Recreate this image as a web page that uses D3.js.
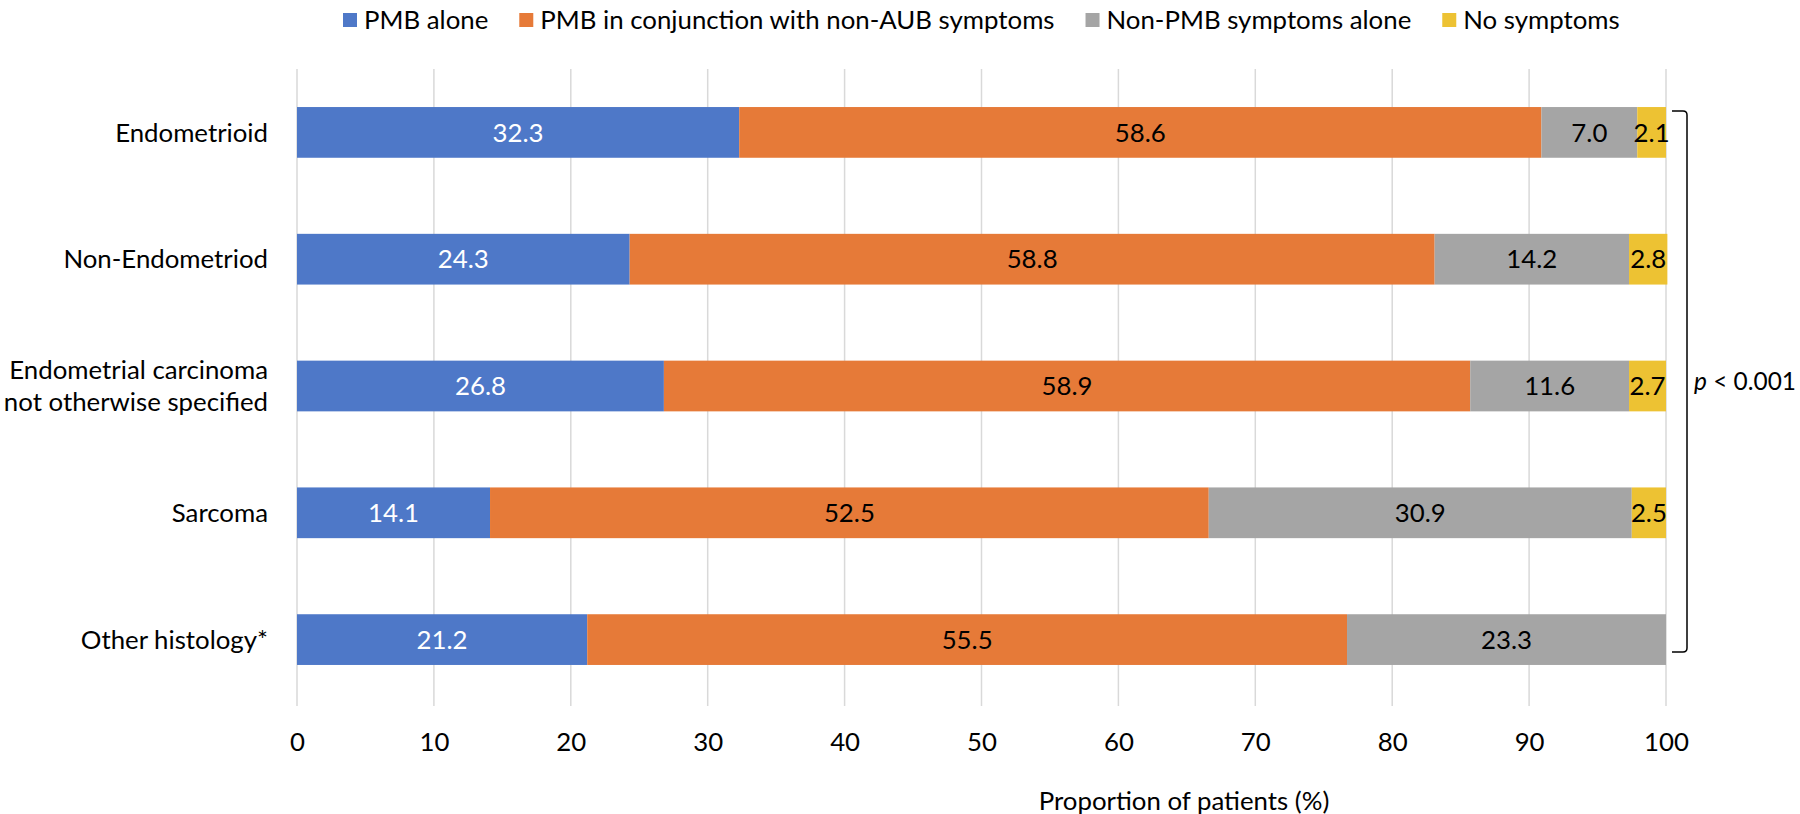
<!DOCTYPE html>
<html><head><meta charset="utf-8">
<script src="https://cdn.jsdelivr.net/npm/d3@7"></script>
<style>body{margin:0;background:#fff}svg{display:block}text{font-family:Lato,"Liberation Sans",sans-serif}</style>
</head><body><svg id="c" width="1800" height="814"></svg>
<script>
const categories = ["Endometrioid","Non-Endometriod","Endometrial carcinoma\nnot otherwise specified","Sarcoma","Other histology*"];
const seriesNames = ["PMB alone","PMB in conjunction with non-AUB symptoms","Non-PMB symptoms alone","No symptoms"];
const pmbAlone = [32.3,24.3,26.8,14.1,21.2];
const pmbWithNonAUB = [58.6,58.8,58.9,52.5,55.5];
const nonPMBAlone = [7.0,14.2,11.6,30.9,23.3];
const noSymptoms = [2.1,2.8,2.7,2.5,0];
const xTicks = [0,10,20,30,40,50,60,70,80,90,100];
const colors = ["#4E78C8","#E67A38","#A5A5A5","#EDC233"];
const labelColors = ["#fff","#000","#000","#000"];

const svg = d3.select("#c");

// fit font size so the long legend entry has the reference width
const probe = svg.append("text").attr("font-size",100).text(seriesNames[1]);
const FS = Math.round(100*515/probe.node().getComputedTextLength()*10)/10;
probe.remove();

const x = d3.scaleLinear().domain([0,100]).range([297,1666]);
const y = d3.scaleBand().domain(categories).range([69,703]).paddingInner(0.6).paddingOuter(0.3);

// gridlines
svg.append("g").selectAll("line").data(xTicks).join("line")
  .attr("x1",d=>x(d)).attr("x2",d=>x(d)).attr("y1",69).attr("y2",706)
  .attr("stroke","#D9D9D9").attr("stroke-width",1.5);

// axis tick labels
const xAxis = d3.axisBottom(x).tickValues(xTicks).tickSize(0).tickPadding(0);
const ag = svg.append("g").attr("transform","translate(0,742)").call(xAxis);
ag.select(".domain").remove();
ag.selectAll("text").attr("font-size",FS).attr("font-family","Lato").attr("fill","#000").attr("y",0).attr("dy","0.36em");

// stacked data
const rows = categories.map((c,i)=>({cat:c, vals:[pmbAlone[i],pmbWithNonAUB[i],nonPMBAlone[i],noSymptoms[i]]}));
const segs = [];
rows.forEach(r=>{let acc=0; r.vals.forEach((v,k)=>{segs.push({cat:r.cat,k,v,x0:acc,x1:acc+v}); acc+=v;});});

svg.append("g").selectAll("rect").data(segs.filter(s=>s.v>0)).join("rect")
  .attr("x",d=>x(d.x0)).attr("width",d=>x(d.x1)-x(d.x0))
  .attr("y",d=>y(d.cat)).attr("height",y.bandwidth())
  .attr("fill",d=>colors[d.k]);

svg.append("g").selectAll("text").data(segs.filter(s=>s.v>0)).join("text")
  .attr("x",d=>(x(d.x0)+x(d.x1))/2).attr("y",d=>y(d.cat)+y.bandwidth()/2)
  .attr("dy","0.36em").attr("text-anchor","middle").attr("font-size",FS)
  .attr("fill",d=>labelColors[d.k]).text(d=>d.v.toFixed(1));

// category labels
const LX = 268;
const cl = svg.append("g").selectAll("text").data(categories).join("text")
  .attr("x",LX).attr("text-anchor","end").attr("font-size",FS).attr("fill","#000")
  .attr("y",d=>y(d)+y.bandwidth()/2);
cl.each(function(d){
  const lines = d.split("\n"); const t=d3.select(this);
  lines.forEach((l,i)=>t.append("tspan").attr("x",LX)
    .attr("dy", i===0 ? ((0.36 - (lines.length-1)*0.62)+"em") : "1.24em").text(l));
});

// x title
svg.append("text").attr("x",1184).attr("y",810).attr("text-anchor","middle")
  .attr("font-size",FS).attr("fill","#000").text("Proportion of patients (%)");

// bracket
const by0 = y(categories[0]) + 4, by1 = y(categories[4]) + y.bandwidth() - 13;
svg.append("path").attr("d",`M1672,${by0} H1683 Q1687,${by0} 1687,${by0+4} V${by1-4} Q1687,${by1} 1683,${by1} H1672`)
  .attr("fill","none").attr("stroke","#000").attr("stroke-width",1.5);
const pt = svg.append("text").attr("x",1694).attr("y",(by0+by1)/2).attr("dy","0.36em").attr("font-size",FS).attr("fill","#000");
pt.append("tspan").attr("font-style","italic").text("p");
pt.append("tspan").text(" < 0.001");
const pw = pt.node().getComputedTextLength();
if (1694 + pw > 1796) pt.attr("font-size", FS * (1796-1694)/pw);

// legend
const lg = svg.append("g");
let lx = 343;
seriesNames.forEach((n,i)=>{
  lg.append("rect").attr("x",lx).attr("y",13).attr("width",14).attr("height",14).attr("fill",colors[i]);
  const t = lg.append("text").attr("x",lx+21).attr("y",29).attr("font-size",FS).attr("fill","#000").text(n);
  lx += 21 + t.node().getComputedTextLength() + 31;
});
</script></body></html>
